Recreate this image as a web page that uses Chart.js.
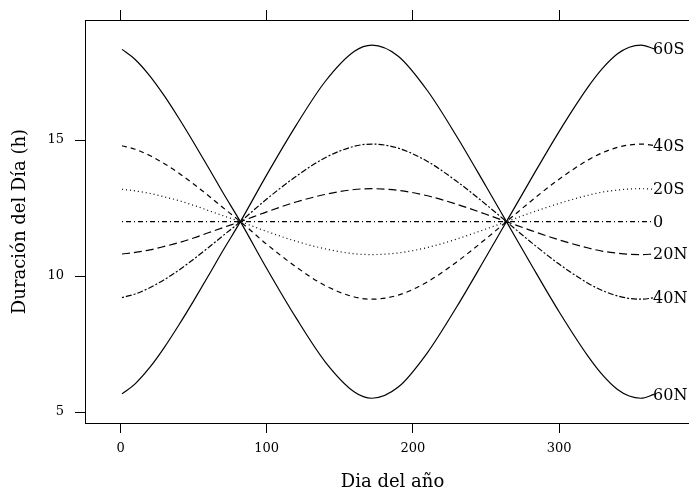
<!DOCTYPE html>
<html>
<head>
<meta charset="utf-8">
<script src="https://cdn.jsdelivr.net/npm/chart.js@4"></script>
<style>
  html, body { margin: 0; padding: 0; background: #fff; overflow: hidden; }
  #wrap { width: 689px; height: 493px; overflow: hidden; position: relative; }
  canvas { display: block; }
</style>
</head>
<body>
<div id="wrap"><canvas id="dayChart" width="700" height="493"></canvas></div>
<script>
// day of year where values were read
const days = [1, 10, 20, 30, 40, 50, 60, 70, 82, 100, 120, 140, 160, 172, 190, 210, 230, 250, 264, 280, 300, 320, 330, 340, 348, 356, 365];

// day length (hours) per latitude
const lat60S = [18.33, 17.96, 17.36, 16.62, 15.79, 14.91, 14.00, 13.07, 12, 10.28, 8.47, 6.85, 5.74, 5.51, 5.92, 7.19, 8.87, 10.70, 12, 13.49, 15.31, 16.96, 17.65, 18.17, 18.41, 18.49, 18.35];
const lat40S = [14.79, 14.66, 14.43, 14.13, 13.78, 13.38, 12.96, 12.52, 12, 11.17, 10.34, 9.65, 9.23, 9.15, 9.30, 9.79, 10.52, 11.37, 12, 12.72, 13.56, 14.27, 14.54, 14.73, 14.82, 14.85, 14.80];
const lat20S = [13.19, 13.13, 13.04, 12.91, 12.77, 12.60, 12.41, 12.22, 12, 11.64, 11.28, 11.00, 10.82, 10.79, 10.85, 11.05, 11.36, 11.73, 12, 12.31, 12.67, 12.97, 13.09, 13.16, 13.20, 13.21, 13.19];
const lat0 = [12, 12, 12, 12, 12, 12, 12, 12, 12, 12, 12, 12, 12, 12, 12, 12, 12, 12, 12, 12, 12, 12, 12, 12, 12, 12, 12];
const lat20N = [10.81, 10.87, 10.96, 11.09, 11.23, 11.40, 11.59, 11.78, 12, 12.36, 12.72, 13.00, 13.18, 13.21, 13.15, 12.95, 12.64, 12.27, 12, 11.69, 11.33, 11.03, 10.91, 10.84, 10.80, 10.79, 10.81];
const lat40N = [9.21, 9.34, 9.57, 9.87, 10.22, 10.62, 11.04, 11.48, 12, 12.83, 13.66, 14.35, 14.77, 14.85, 14.70, 14.21, 13.48, 12.63, 12, 11.28, 10.44, 9.73, 9.46, 9.27, 9.18, 9.15, 9.20];
const lat60N = [5.67, 6.04, 6.64, 7.38, 8.21, 9.09, 10.00, 10.93, 12, 13.72, 15.53, 17.15, 18.26, 18.49, 18.08, 16.81, 15.13, 13.30, 12, 10.51, 8.69, 7.04, 6.35, 5.83, 5.59, 5.51, 5.65];

const seriesNames = ['60S', '40S', '20S', '0', '20N', '40N', '60N'];
const seriesValues = [lat60S, lat40S, lat20S, lat0, lat20N, lat40N, lat60N];

const xTicks = [0, 100, 200, 300];
const yTicks = [5, 10, 15];

// R style line types: solid, dashed, dotted, dotdash, longdash, twodash, solid
const dashes = [[], [5, 4], [1, 3], [1, 3, 5, 3], [8, 4], [2, 2, 6, 2], []];

Chart.defaults.font.family = '"DejaVu Serif", serif';
Chart.defaults.color = '#000';

const datasets = seriesValues.map((vals, i) => ({
    label: seriesNames[i],
    data: days.map((d, j) => ({ x: d, y: vals[j] })),
    borderColor: '#000',
    borderWidth: 1.2,
    borderDash: dashes[i],
    pointRadius: 0,
    fill: false,
    cubicInterpolationMode: 'monotone'
}));

// write each latitude name at the end of its curve
const endLabels = {
    id: 'endLabels',
    afterDatasetsDraw(chart) {
        const ctx = chart.ctx;
        ctx.save();
        ctx.font = '16px "DejaVu Serif"';
        ctx.fillStyle = '#000';
        ctx.textAlign = 'left';
        ctx.textBaseline = 'middle';
        chart.data.datasets.forEach((ds, i) => {
            const pts = chart.getDatasetMeta(i).data;
            const last = pts[pts.length - 1];
            ctx.fillText(ds.label, last.x - 1, last.y + 1);
        });
        ctx.restore();
    }
};

const tickSetter = values => scale => {
    scale.ticks = values.map(v => ({ value: v }));
};

new Chart(document.getElementById('dayChart'), {
    type: 'line',
    data: { datasets: datasets },
    options: {
        responsive: false,
        devicePixelRatio: 1,
        animation: false,
        layout: { padding: 0 },
        plugins: {
            legend: { display: false },
            tooltip: { enabled: false }
        },
        scales: {
            x: {
                type: 'linear',
                position: 'bottom',
                min: -24.3,
                max: 396.4,
                afterBuildTicks: tickSetter(xTicks),
                afterFit: scale => { scale.height = 70; },
                grid: { drawOnChartArea: false, tickLength: 10, color: '#000' },
                border: { display: true, color: '#000' },
                ticks: { font: { size: 13 }, padding: 8, maxRotation: 0 },
                title: { display: true, text: 'Dia del año', font: { size: 18 }, padding: { top: 0, bottom: 0 } }
            },
            xTop: {
                type: 'linear',
                position: 'top',
                min: -24.3,
                max: 396.4,
                afterBuildTicks: tickSetter(xTicks),
                afterFit: scale => { scale.height = 20; },
                grid: { drawOnChartArea: false, tickLength: 10, color: '#000' },
                border: { display: true, color: '#000' },
                ticks: { display: false }
            },
            y: {
                type: 'linear',
                position: 'left',
                min: 4.6,
                max: 19.41,
                afterBuildTicks: tickSetter(yTicks),
                afterFit: scale => { scale.width = 85; },
                grid: { drawOnChartArea: false, tickLength: 10, color: '#000' },
                border: { display: true, color: '#000' },
                ticks: { font: { size: 13 }, padding: 11 },
                title: { display: true, text: 'Duración del Día (h)', font: { size: 18 }, padding: { top: 10, bottom: 0 } }
            }
        }
    },
    plugins: [endLabels]
});
</script>
</body>
</html>
